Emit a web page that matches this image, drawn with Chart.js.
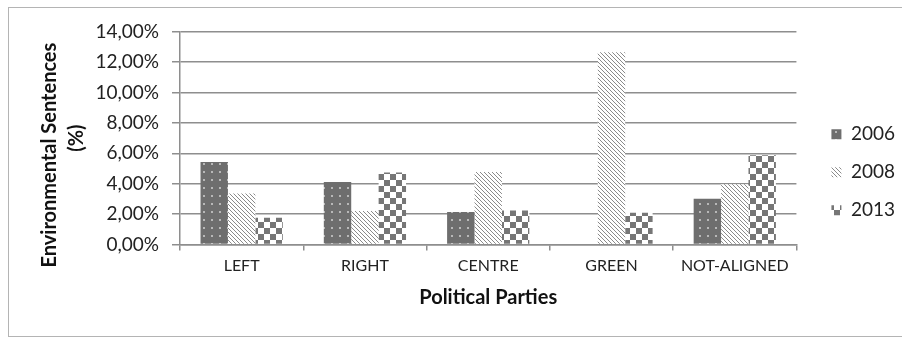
<!DOCTYPE html>
<html>
<head>
<meta charset="utf-8">
<script src="https://cdn.jsdelivr.net/npm/chart.js@4.4.1/dist/chart.umd.min.js"></script>
<style>
  html, body { margin: 0; padding: 0; background: #ffffff; }
  #wrap { position: relative; width: 902px; height: 337px; overflow: hidden; }
  #frame { position: absolute; left: 8px; top: 7px; width: 1000px; height: 328px; border: 1px solid #b4b4b4; pointer-events: none; }
  canvas { position: absolute; left: 0; top: 0; }
</style>
</head>
<body>
<div id="wrap">
  <canvas id="c" width="902" height="337"></canvas>
  <div id="frame"></div>
</div>
<script>
const categories = ['LEFT', 'RIGHT', 'CENTRE', 'GREEN', 'NOT-ALIGNED'];
const seriesNames = ['2006', '2008', '2013'];
const values2006 = [5.42, 4.12, 2.13, null, 3.01];
const values2008 = [3.36, 2.20, 4.77, 12.64, 3.96];
const values2013 = [1.76, 4.74, 2.24, 2.09, 5.87];
const yTicks = [0, 2, 4, 6, 8, 10, 12, 14];

function makePattern(kind) {
  const t = document.createElement('canvas');
  const g = t.getContext('2d');
  if (kind === 'dots') {
    t.width = 8; t.height = 8;
    g.fillStyle = '#6e6e6e'; g.fillRect(0, 0, 8, 8);
    g.fillStyle = '#b8b8b8'; g.fillRect(3, 3, 2, 2);
  } else if (kind === 'diag') {
    t.width = 4; t.height = 4;
    g.fillStyle = '#ffffff'; g.fillRect(0, 0, 4, 4);
    g.fillStyle = '#8a8a8a';
    for (let i = 0; i < 4; i++) g.fillRect(i, i, 1, 1);
  } else {
    t.width = 12; t.height = 12;
    g.fillStyle = '#ffffff'; g.fillRect(0, 0, 12, 12);
    g.fillStyle = '#767676';
    g.fillRect(0, 0, 6, 6); g.fillRect(6, 6, 6, 6);
  }
  return document.getElementById('c').getContext('2d').createPattern(t, 'repeat');
}

const FONT = 'Lato';
const gridColor = '#8e8e8e';

new Chart(document.getElementById('c'), {
  type: 'bar',
  data: {
    labels: categories,
    datasets: [
      { label: seriesNames[0], data: values2006, backgroundColor: makePattern('dots'), borderWidth: 0 },
      { label: seriesNames[1], data: values2008, backgroundColor: makePattern('diag'), borderWidth: 0 },
      { label: seriesNames[2], data: values2013, backgroundColor: makePattern('check'), borderWidth: 0 }
    ]
  },
  options: {
    responsive: false,
    animation: false,
    devicePixelRatio: 1,
    layout: { padding: { top: 31.7, right: -3, bottom: 24, left: 0 } },
    datasets: { bar: { categoryPercentage: 0.667, barPercentage: 1.0 } },
    plugins: {
      tooltip: { enabled: false },
      legend: {
        position: 'right',
        align: 'center',
        labels: {
          boxWidth: 10, boxHeight: 10, padding: 19,
          color: '#222', font: { family: FONT, size: 19 }
        }
      }
    },
    scales: {
      x: {
        grid: { display: true, drawOnChartArea: false, drawTicks: true, tickLength: 6, color: gridColor, lineWidth: 1.5, offset: true },
        border: { display: true, color: gridColor, width: 1.5 },
        ticks: { color: '#222', padding: 6, font: { family: FONT, size: 16 }, maxRotation: 0 },
        title: { display: true, text: 'Political Parties', color: '#111', font: { family: FONT, size: 20, weight: 'bold' }, padding: { top: 0, bottom: 3 } },
        afterFit: s => { s.height = 337 - 24 - 244.5; }
      },
      y: {
        min: 0, max: 14,
        afterBuildTicks: s => { s.ticks = yTicks.map(v => ({ value: v })); },
        grid: { color: gridColor, lineWidth: 1.5, drawTicks: true, tickLength: 8 },
        border: { display: true, color: gridColor, width: 1.5 },
        ticks: { color: '#222', padding: 13, font: { family: FONT, size: 19 },
          callback: v => v.toFixed(2).replace('.', ',') + '%' },
        title: { display: true, text: ['Environmental Sentences       ', '(%)'], color: '#111',
          font: { family: FONT, size: 20, weight: 'bold', lineHeight: 1.35 }, padding: { top: 36, bottom: 0 } },
        afterFit: s => { s.width = 180; }
      },
      spacer: {
        type: 'linear', position: 'right', display: true,
        grid: { display: false, drawOnChartArea: false }, border: { display: false },
        ticks: { display: false }, title: { display: false },
        afterFit: s => { s.width = 16; }
      }
    }
  }
});
</script>
</body>
</html>
